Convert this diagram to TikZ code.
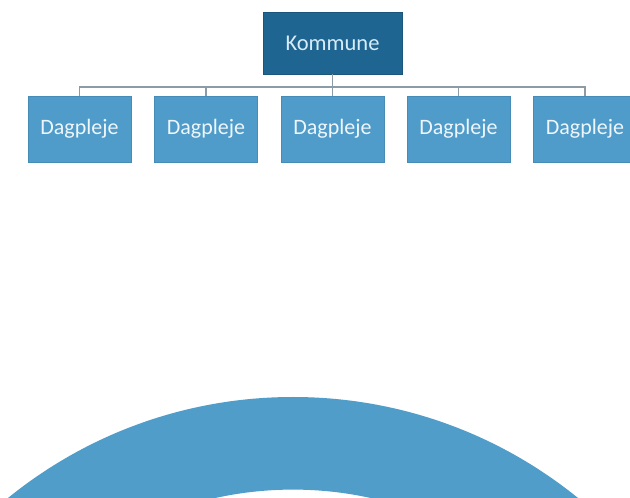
\documentclass[tikz,border=0pt]{standalone}
\usepackage{fontspec}
\setmainfont{Carlito}
\definecolor{topblue}{HTML}{1F6592}
\definecolor{childblue}{HTML}{4F9CCA}
\definecolor{ringblue}{HTML}{509DC9}
\definecolor{linegray}{HTML}{8C9BA5}
\definecolor{toptext}{HTML}{D6ECF8}
\definecolor{childtext}{HTML}{EEF6FB}
\tikzset{
  topbox/.style={fill=topblue, draw=topblue!85!black, line width=0.6pt, minimum width=139pt, minimum height=62pt, inner sep=0pt, text=toptext, font=\fontsize{22.5}{26}\selectfont},
  childbox/.style={fill=childblue, draw=childblue!90!black, line width=0.6pt, minimum width=103pt, minimum height=66pt, inner sep=0pt, text=childtext, font=\fontsize{22}{26}\selectfont},
  conn/.style={draw=linegray, line width=1.8pt}
}
\begin{document}
\begin{tikzpicture}[x=1pt,y=1pt]
\useasboundingbox (0,0) rectangle (630,498);
\clip (0,0) rectangle (630,498);
\fill[white] (0,0) rectangle (630,498);
% ring
\fill[ringblue, even odd rule] (293,-351.6) circle[radius=452.6pt] (293,-351.6) circle[radius=360pt];
% nodes
\node[topbox] (k) at (332.5,455) {Kommune};
\node[childbox] (d1) at (79.5,369) {Dagpleje};
\node[childbox] (d2) at (206,369) {Dagpleje};
\node[childbox] (d3) at (332.5,369) {Dagpleje};
\node[childbox] (d4) at (458.5,369) {Dagpleje};
\node[childbox] (d5) at (585,369) {Dagpleje};
\coordinate (bar) at (332.5,411);
\draw[conn] (k.south) -- (bar);
\draw[conn] (d1.north) |- (bar);
\draw[conn] (d5.north) |- (bar);
\draw[conn] (d2.north) -- (d2.north |- bar);
\draw[conn] (d3.north) -- (bar);
\draw[conn] (d4.north) -- (d4.north |- bar);
\end{tikzpicture}
\end{document}
